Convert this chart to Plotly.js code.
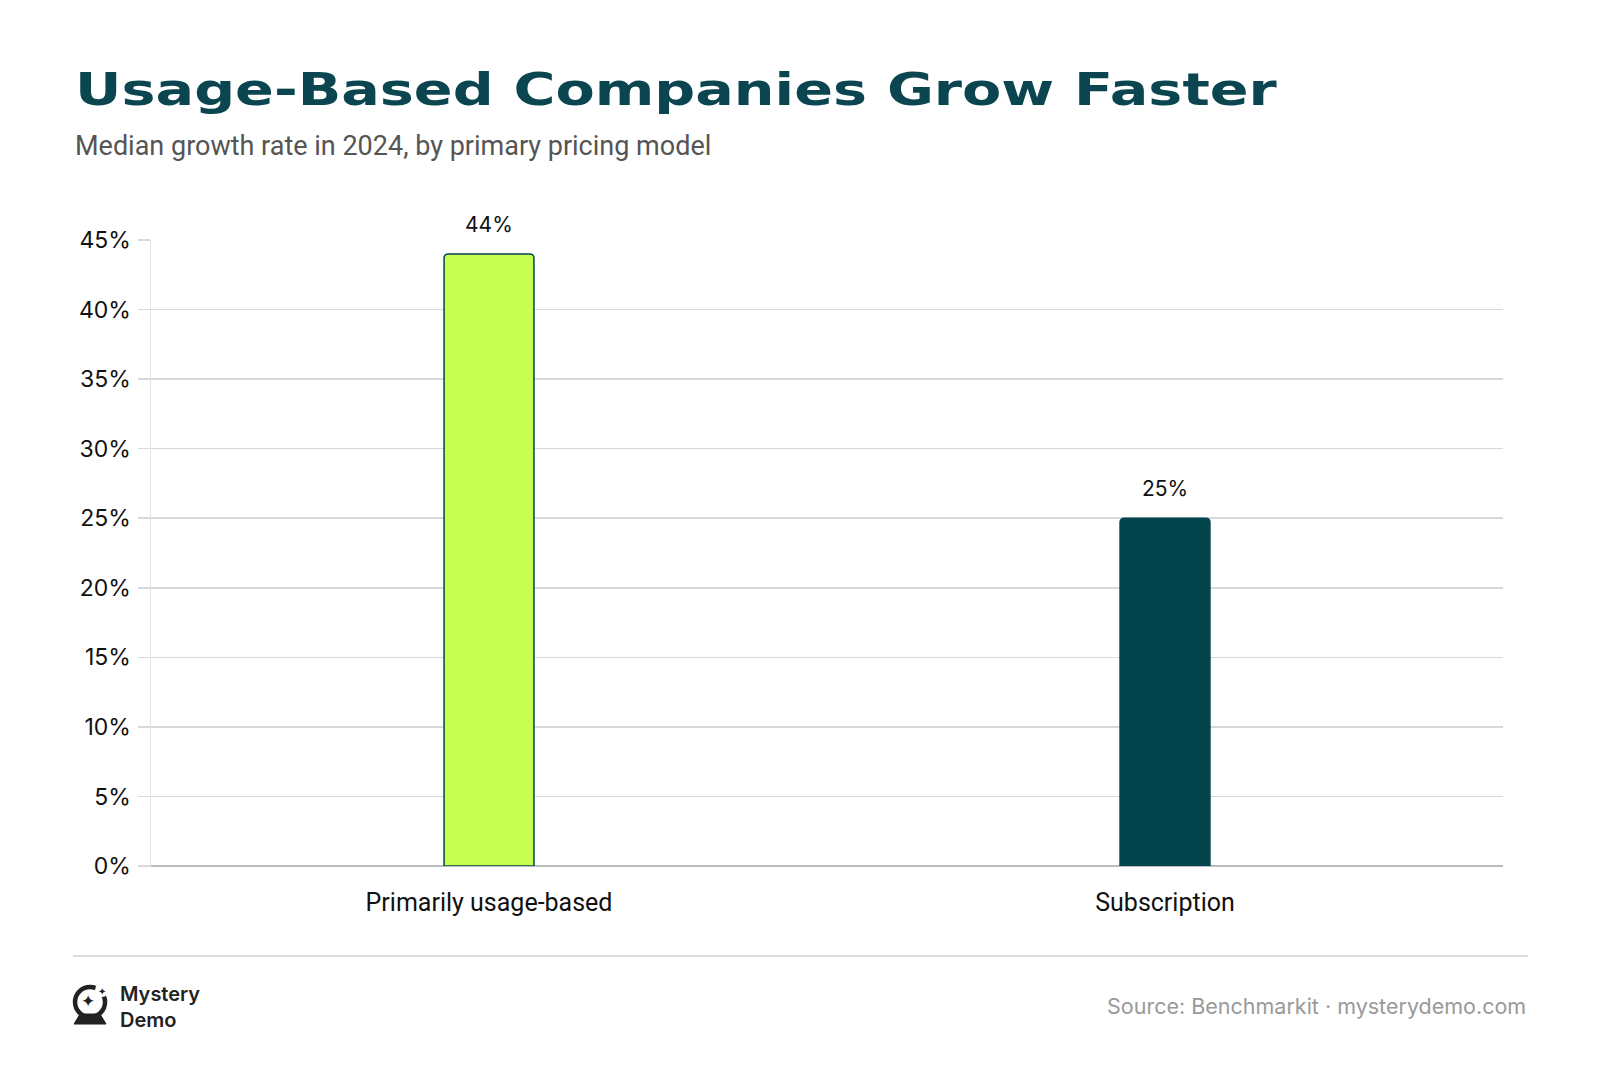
<!DOCTYPE html>
<html>
<head>
<meta charset="utf-8">
<script src="https://cdn.plot.ly/plotly-3.0.1.min.js"></script>
<style>
html,body{margin:0;padding:0;background:#fff;}
#chart{width:1600px;height:1082px;}
</style>
</head>
<body>
<div id="chart"></div>
<script>
// ---- data ----
const categories = ["Primarily usage-based", "Subscription"];
const growthRates = [44, 25];
const valueLabels = ["44%", "25%"];
const yTickValues = [0, 5, 10, 15, 20, 25, 30, 35, 40, 45];
const yTickLabels = ["0%", "5%", "10%", "15%", "20%", "25%", "30%", "35%", "40%", "45%"];
const titleText = "Usage-Based Companies Grow Faster";
const subtitleText = "Median growth rate in 2024, by primary pricing model";
const sourceText = "Source: Benchmarkit · mysterydemo.com";
const logoText = "Mystery<br>Demo";

const TEAL = "#03444D";
const LIME = "#C6FF50";

const trace = {
  type: "bar",
  x: categories,
  y: growthRates,
  width: 0.133,
  marker: {
    color: [LIME, TEAL],
    line: {color: TEAL, width: 1.5},
    cornerradius: 4
  },
  hoverinfo: "skip"
};

const annotations = categories.map((c, i) => ({
  x: c, y: growthRates[i], xref: "x", yref: "y",
  text: valueLabels[i], showarrow: false,
  yanchor: "bottom", yshift: 15,
  font: {family: "Inter, Roboto, sans-serif", size: 21, color: "#111"}
}));

const TITLE_INDEX = annotations.length;
annotations.push(
  {xref: "paper", yref: "paper", x: -0.0577, y: 1.2412, xanchor: "left", yanchor: "middle",
   text: "<b>" + titleText + "</b>", showarrow: false,
   font: {family: "DejaVu Sans", size: 44, color: "#0A4550", weight: 900}},
  {xref: "paper", yref: "paper", x: -0.0577, y: 1.150, xanchor: "left", yanchor: "middle",
   text: subtitleText, showarrow: false,
   font: {family: "Roboto, sans-serif", size: 27, color: "#555"}}
);
const LOGO_TEXT_INDEX = annotations.length;
annotations.push(
  {xref: "paper", yref: "paper", x: -0.0244, y: -0.2260, xanchor: "left", yanchor: "middle",
   text: logoText, showarrow: false, align: "left",
   font: {family: "Inter, sans-serif", size: 20, color: "#222", weight: 600}},
  {xref: "paper", yref: "paper", x: -0.0466, y: -0.2157, xanchor: "center", yanchor: "middle",
   text: "✦", showarrow: false,
   font: {family: "DejaVu Sans", size: 17, color: "#222"}},
  {xref: "paper", yref: "paper", x: -0.0363, y: -0.2010, xanchor: "center", yanchor: "middle",
   text: "✦", showarrow: false,
   font: {family: "DejaVu Sans", size: 10, color: "#222"}},
  {xref: "paper", yref: "paper", x: 1.0185, y: -0.2236, xanchor: "right", yanchor: "middle",
   text: sourceText, showarrow: false,
   font: {family: "Inter, sans-serif", size: 21.5, color: "#999"}}
);

const LOGO_X = -0.0451, LOGO_Y = -0.2173;
const shapes = [
  // divider
  {type: "line", xref: "paper", yref: "paper", x0: -0.0577, x1: 1.0185, y0: -0.1438, y1: -0.1438,
   line: {color: "#DDDDDD", width: 2}},
  // logo ring
  {type: "circle", xref: "paper", yref: "paper", xsizemode: "pixel", ysizemode: "pixel",
   xanchor: LOGO_X, yanchor: LOGO_Y, x0: -15, x1: 15, y0: -15, y1: 15,
   line: {color: "#222", width: 4.5}, fillcolor: "rgba(0,0,0,0)"},
  // gap in ring (top-right)
  {type: "circle", xref: "paper", yref: "paper", xsizemode: "pixel", ysizemode: "pixel",
   xanchor: LOGO_X, yanchor: LOGO_Y, x0: 5, x1: 19, y0: 5, y1: 19,
   line: {color: "#fff", width: 0}, fillcolor: "#fff"},
  // logo base
  {type: "path", xref: "paper", yref: "paper", xsizemode: "pixel", ysizemode: "pixel",
   xanchor: LOGO_X, yanchor: LOGO_Y,
   path: "M -10 -12 L 10 -12 L 16 -22 L -16 -22 Z",
   fillcolor: "#222", line: {color: "#222", width: 1}}
];

const layout = {
  width: 1600, height: 1082,
  margin: {l: 151, r: 97, t: 240, b: 216, pad: 0},
  paper_bgcolor: "#fff", plot_bgcolor: "#fff",
  showlegend: false,
  xaxis: {
    type: "category",
    showgrid: false,
    showline: false,
    zeroline: false,
    ticks: "",
    ticklabelstandoff: 19,
    tickfont: {family: "Roboto, sans-serif", size: 25, color: "#111"}
  },
  yaxis: {
    range: [0, 45],
    tickvals: yTickValues,
    ticktext: yTickLabels,
    showgrid: true,
    gridcolor: "#D5D8DC",
    gridwidth: 1.5,
    zeroline: true,
    zerolinecolor: "#B9BDC1",
    zerolinewidth: 2,
    showline: true,
    linecolor: "#E2E4E6",
    linewidth: 1.5,
    ticks: "outside",
    ticklen: 12,
    tickcolor: "#D5D8DC",
    tickwidth: 1.5,
    ticklabelstandoff: 2,
    tickfont: {family: "Inter, sans-serif", size: 23, color: "#111"},
    fixedrange: true
  },
  annotations: annotations,
  shapes: shapes
};

Plotly.newPlot("chart", [trace], layout, {displayModeBar: false, staticPlot: true}).then(() => {
  // widen the title to mimic the reference's extended display face
  const t = document.querySelector('.annotation[data-index="' + TITLE_INDEX + '"] text');
  if (t) {
    t.style.transformBox = "fill-box";
    t.style.transformOrigin = "left center";
    t.style.transform = "scaleX(1.3)";
  }
});
</script>
</body>
</html>
